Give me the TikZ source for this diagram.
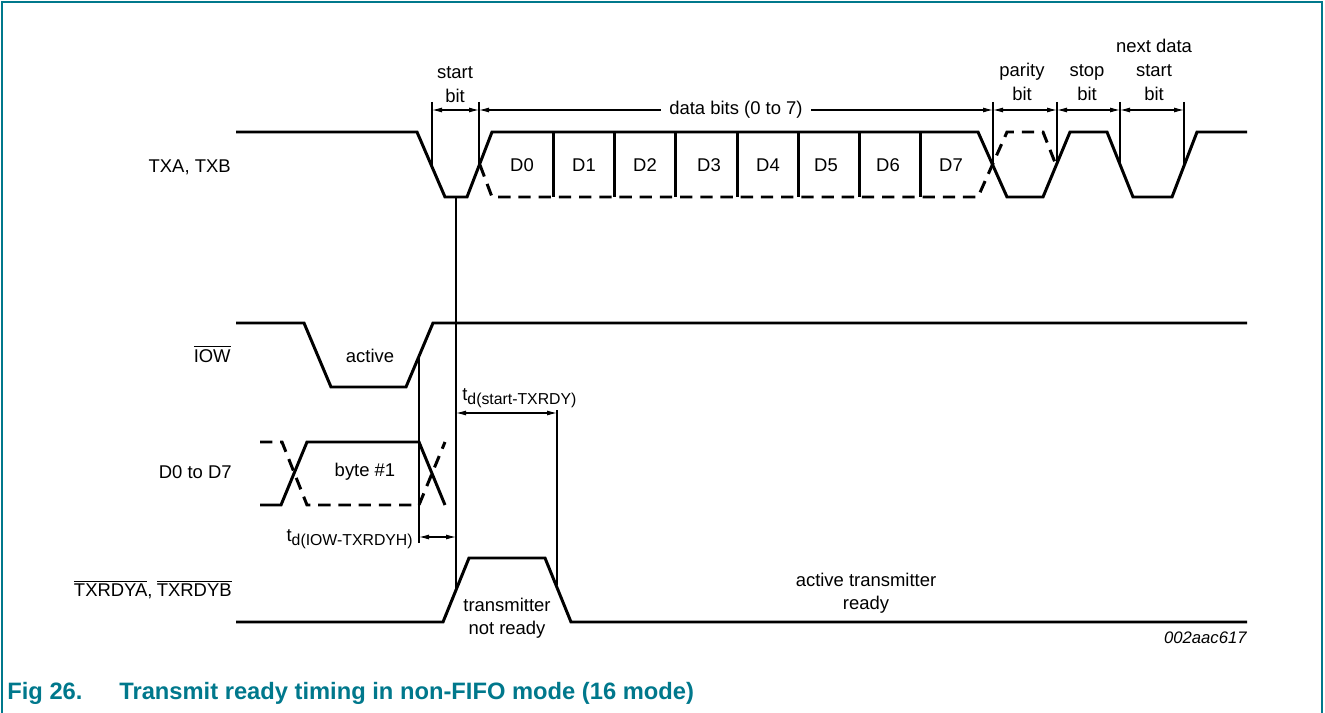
\documentclass[tikz,border=0pt]{standalone}
\usepackage{fontspec}
\setmainfont{Liberation Sans}
\usetikzlibrary{arrows.meta}
\definecolor{figteal}{RGB}{0,120,140}
\begin{document}
\begin{tikzpicture}[x=0.02cm,y=-0.02cm,
  sig/.style={line width=1.7pt},
  sigdash/.style={sig,dash pattern=on 7pt off 4.5pt},
  ext/.style={line width=0.6pt},
  dim/.style={line width=0.6pt,{Latex[length=2mm,width=1mm]}-{Latex[length=2mm,width=1mm]}},
  lbl/.style={inner sep=0pt,font=\fontsize{10.5}{12.8}\selectfont,align=center},
  bitlbl/.style={lbl,anchor=south,font=\fontsize{10.5}{13.6}\selectfont}]
\useasboundingbox (0,0) rectangle (1325,713);
\draw[figteal,line width=1.2pt] (2,713) -- (2,2) -- (1322,2) -- (1322,713); % frame
% signal names
\node[lbl,anchor=base east] (ntx) at (231,173) {TXA, TXB};
\node[lbl,anchor=base east] (niow) at (231,362) {$\overline{\hbox{IOW}}$};
\node[lbl,anchor=base east] (ndata) at (232,478) {D0 to D7};
\node[lbl,anchor=base east] (nrdy) at (232,596) {$\overline{\hbox{TXRDYA}}$,\kern-0.5pt\ $\overline{\hbox{TXRDYB}}$};
% TXA, TXB
\draw[sig] (236,132) -- (417,132) -- (445,197) -- (467,197) -- (492,132) -- (978,132) -- (1007,197)
  -- (1043,197) -- (1070,132) -- (1107,132) -- (1133,197) -- (1172,197) -- (1197,132) -- (1247,132);
\draw[sigdash] (480,165) -- (492,197) -- (978,197) -- (1007,132) -- (1043,132) -- (1056,165);
\foreach \x in {553,614,675,737,798,859,920}
  \draw[sig] (\x,132) -- (\x,197);
\foreach \i/\x in {0/522,1/584,2/645,3/709,4/768,5/826,6/888,7/951}
  \node[lbl] (d\i) at (\x,165) {D\i};
% bit marks
\foreach \n/\x/\y in {sb/432/167,db/479/165,pb/993/165,st/1057/165,nx/1120/164,ne/1184/166} {
  \coordinate (\n top) at (\x,102);
  \coordinate (\n) at (\x,110);
  \draw[ext] (\n top) -- (\x,\y);
}
\draw[dim] (sb) -- (db);
\draw[dim] (db) -- node[lbl,fill=white,inner xsep=5pt] (ldata) {data bits (0 to 7)} (pb);
\draw[dim] (pb) -- (st);
\draw[dim] (st) -- (nx);
\draw[dim] (nx) -- (ne);
\node[bitlbl] (lstart) at (455,103) {start\\bit};
\node[bitlbl] (lpar) at (1022,101) {parity\\bit};
\node[bitlbl] (lstop) at (1087,101) {stop\\bit};
\node[bitlbl] (lnext) at (1154,101) {next data\\start\\bit};
% IOW
\draw[sig] (236,323) -- (304,323) -- (331,387) -- (406,387) -- (433,323) -- (1247,323);
\node[lbl] (lact) at (370,356) {active};
% D0 to D7
\draw[sig] (260,505) -- (281,505) -- (307,442) -- (419,442) -- (445,505);
\draw[sigdash] (260,442) -- (282,442) -- (307,505) -- (419,505) -- (445,442);
\node[lbl] (lbyte) at (365,472) {byte \#1};
% TXRDYA, TXRDYB
\draw[sig] (236,622) -- (443,622) -- (469,558) -- (545,558) -- (571,622) -- (1247,622);
\node[lbl] (lnot) at (507,618) {transmitter\\not ready};
\node[lbl] (lready) at (866,593) {active transmitter\\ready};
% delays
\coordinate (iowtop) at (419,357);
\coordinate (iowbot) at (419,543);
\coordinate (sttop) at (456,197);
\coordinate (stbot) at (456,590);
\coordinate (rdytop) at (557,410);
\coordinate (rdybot) at (557,585);
\draw[ext] (iowtop) -- (iowbot);
\draw[ext] (sttop) -- (stbot);
\draw[ext] (rdytop) -- (rdybot);
\coordinate (a1) at (419,537);
\coordinate (a2) at (456,537);
\coordinate (b1) at (456,413);
\coordinate (b2) at (557,413);
\draw[dim] (a1) -- (a2);
\draw[dim] (b1) -- (b2);
\node[lbl,anchor=base east] (tiow) at (413,541) {t\raisebox{-2.5pt}{\fontsize{9}{10}\selectfont d(IOW-TXRDYH)}};
\node[lbl,anchor=base west] (tstart) at (462,400) {t\raisebox{-2.5pt}{\fontsize{9}{10}\selectfont d(start-TXRDY)}};
% figure id and caption
\node[lbl,anchor=base east,font=\fontsize{9.5}{11}\selectfont\itshape] (fid) at (1247,643) {002aac617};
\node[inner sep=0pt,anchor=base west,text=figteal,font=\fontsize{13.5}{16}\selectfont\bfseries] (cap) at (7,699)
  {\makebox[2.24cm][l]{Fig 26.}Transmit ready timing in non-FIFO mode (16 mode)};
\end{tikzpicture}
\end{document}
